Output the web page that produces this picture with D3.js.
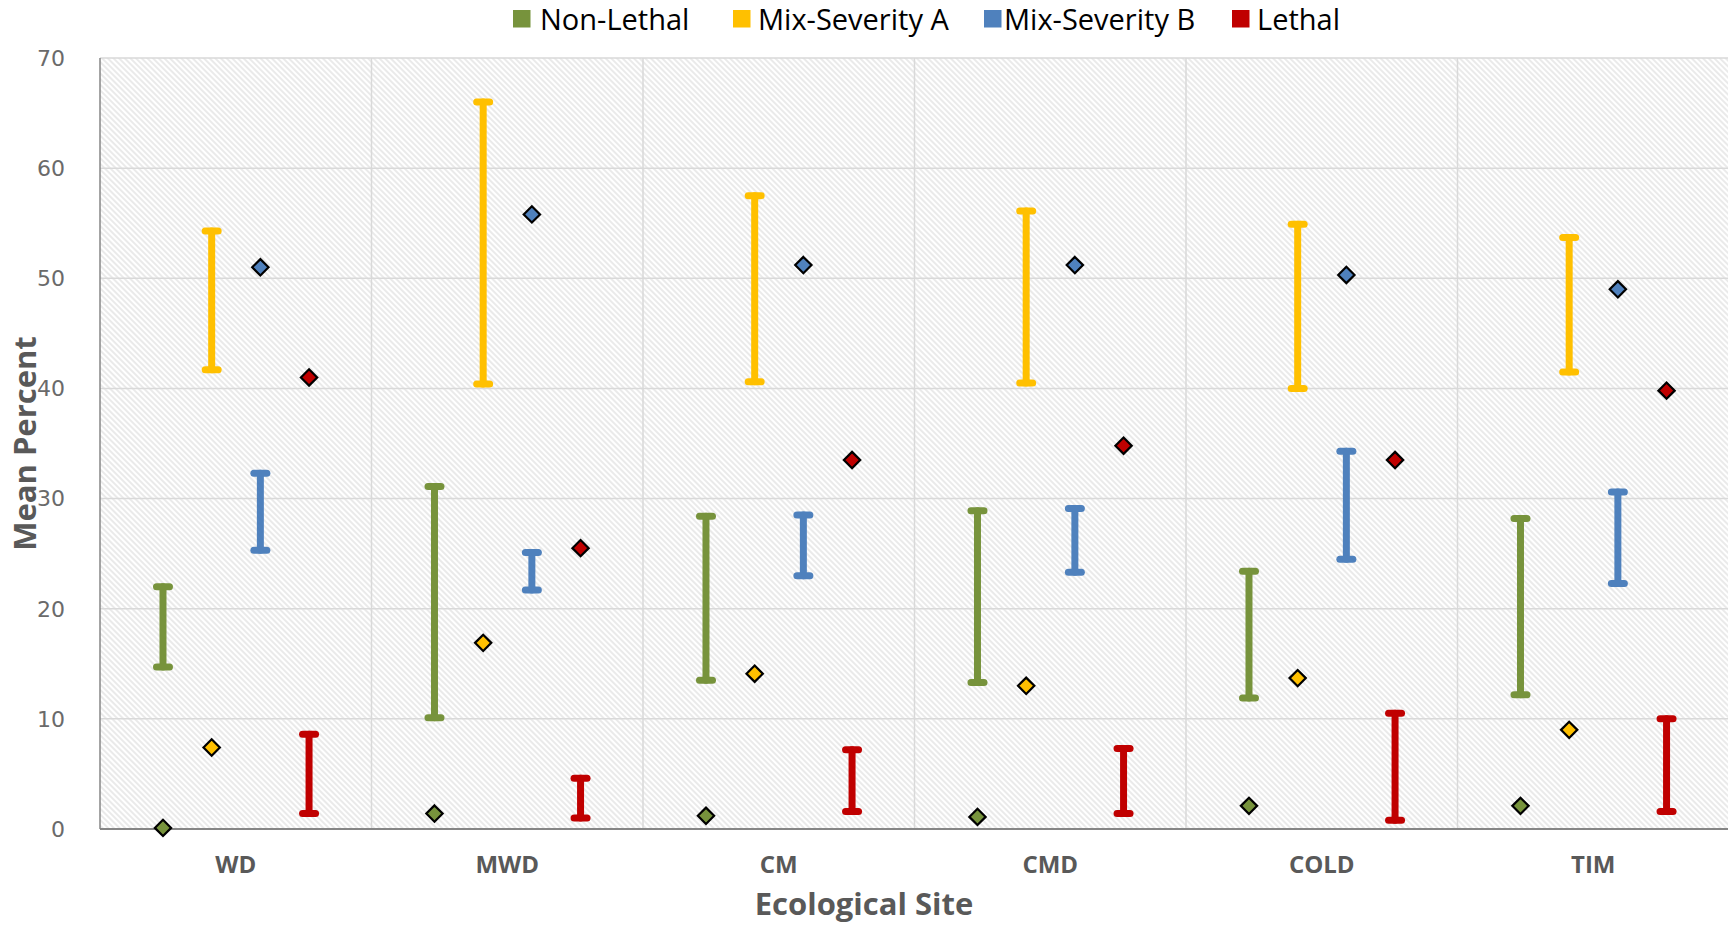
<!DOCTYPE html>
<html>
<head>
<meta charset="utf-8">
<script src="https://cdn.jsdelivr.net/npm/d3@7"></script>
<style>
  body { margin: 0; background: #fff; }
  svg { display: block; }
</style>
</head>
<body>
<script>
// categories and series
const sites = ["WD", "MWD", "CM", "CMD", "COLD", "TIM"];
const series = ["Non-Lethal", "Mix-Severity A", "Mix-Severity B", "Lethal"];
const colors = ["#77933C", "#FFC000", "#4F81BD", "#C00000"];
const yTicks = [0, 10, 20, 30, 40, 50, 60, 70];

// range bars (low / high) and diamond points, one value per site
const nonLethalLow = [14.7, 10.1, 13.5, 13.3, 11.9, 12.2];
const nonLethalHigh = [22.0, 31.1, 28.4, 28.9, 23.4, 28.2];
const nonLethalPoint = [0.1, 1.4, 1.2, 1.1, 2.1, 2.1];

const mixALow = [41.7, 40.4, 40.6, 40.5, 40.0, 41.5];
const mixAHigh = [54.3, 66.0, 57.5, 56.1, 54.9, 53.7];
const mixAPoint = [7.4, 16.9, 14.1, 13.0, 13.7, 9.0];

const mixBLow = [25.3, 21.7, 23.0, 23.3, 24.5, 22.3];
const mixBHigh = [32.3, 25.1, 28.5, 29.1, 34.3, 30.6];
const mixBPoint = [51.0, 55.8, 51.2, 51.2, 50.3, 49.0];

const lethalLow = [1.4, 1.0, 1.6, 1.4, 0.8, 1.6];
const lethalHigh = [8.6, 4.6, 7.2, 7.3, 10.5, 10.0];
const lethalPoint = [41.0, 25.5, 33.5, 34.8, 33.5, 39.8];

const lows = [nonLethalLow, mixALow, mixBLow, lethalLow];
const highs = [nonLethalHigh, mixAHigh, mixBHigh, lethalHigh];
const points = [nonLethalPoint, mixAPoint, mixBPoint, lethalPoint];

function main() {
    const width = 1728, height = 926;
    const left = 100, right = 1729, top = 58, bottom = 829;

    let svg = d3.select("body").append("svg")
        .attr("width", width)
        .attr("height", height);

    // build rows from the arrays
    let rows = [];
    series.forEach((s, si) => {
        sites.forEach((site, ci) => {
            rows.push({
                site: site, series: s, si: si,
                low: lows[si][ci], high: highs[si][ci], point: points[si][ci]
            });
        });
    });

    let xScale = d3.scaleBand().domain(sites).range([left, right]).padding(0);
    let bw = xScale.bandwidth();
    let sScale = d3.scalePoint().domain(series).range([bw * 0.232, bw * 0.77]);
    let yScale = d3.scaleLinear().domain([0, 70]).range([bottom, top]);

    // hatched background
    let defs = svg.append("defs");
    let pat = defs.append("pattern")
        .attr("id", "hatch")
        .attr("patternUnits", "userSpaceOnUse")
        .attr("width", 4)
        .attr("height", 4)
        .attr("patternTransform", "rotate(45)");
    pat.append("rect").attr("width", 4).attr("height", 4).attr("fill", "#fff");
    pat.append("line")
        .attr("x1", 0).attr("y1", 1)
        .attr("x2", 4).attr("y2", 1)
        .attr("stroke", "#d6d6d6")
        .attr("stroke-width", 1);

    svg.append("rect")
        .attr("x", left)
        .attr("y", top)
        .attr("width", right - left)
        .attr("height", bottom - top)
        .attr("fill", "url(#hatch)");

    // horizontal grid
    svg.append("g")
        .selectAll("line")
        .data(yTicks.filter(d => d > 0))
        .enter()
        .append("line")
        .attr("x1", left)
        .attr("x2", right)
        .attr("y1", d => yScale(d))
        .attr("y2", d => yScale(d))
        .attr("stroke", "#d9d9d9")
        .attr("stroke-width", 1.5);

    // vertical grid at category boundaries
    svg.append("g")
        .selectAll("line")
        .data(sites.slice(1))
        .enter()
        .append("line")
        .attr("x1", d => xScale(d))
        .attr("x2", d => xScale(d))
        .attr("y1", top)
        .attr("y2", bottom)
        .attr("stroke", "#d9d9d9")
        .attr("stroke-width", 1.5);

    // axes lines
    svg.append("line")
        .attr("x1", left).attr("x2", left)
        .attr("y1", top).attr("y2", bottom)
        .attr("stroke", "#868686")
        .attr("stroke-width", 1.5);
    svg.append("line")
        .attr("x1", left).attr("x2", right)
        .attr("y1", bottom).attr("y2", bottom)
        .attr("stroke", "#868686")
        .attr("stroke-width", 2);

    // y tick labels
    svg.append("g")
        .selectAll("text")
        .data(yTicks)
        .enter()
        .append("text")
        .attr("x", 65)
        .attr("y", d => yScale(d))
        .attr("dy", "0.36em")
        .attr("text-anchor", "end")
        .style("font-family", "'DejaVu Sans', sans-serif")
        .style("font-size", "22px")
        .style("fill", "#6a6a6a")
        .text(d => d);

    // x tick labels
    svg.append("g")
        .selectAll("text")
        .data(sites)
        .enter()
        .append("text")
        .attr("x", d => xScale(d) + bw / 2)
        .attr("y", 873)
        .attr("text-anchor", "middle")
        .style("font-family", "'Open Sans', sans-serif")
        .style("font-weight", "bold")
        .style("font-size", "24px")
        .style("fill", "#595959")
        .text(d => d);

    // axis titles
    svg.append("text")
        .attr("x", width / 2)
        .attr("y", 915)
        .attr("text-anchor", "middle")
        .style("font-family", "'Open Sans', sans-serif")
        .style("font-weight", "bold")
        .style("font-size", "31px")
        .style("fill", "#595959")
        .text("Ecological Site");

    svg.append("text")
        .attr("transform", `translate(36, ${(top + bottom) / 2}) rotate(-90)`)
        .attr("text-anchor", "middle")
        .style("font-family", "'Open Sans', sans-serif")
        .style("font-weight", "bold")
        .style("font-size", "31px")
        .style("fill", "#595959")
        .text("Mean Percent");

    // error-bar style ranges
    let bars = svg.append("g")
        .selectAll("g")
        .data(rows)
        .enter()
        .append("g")
        .attr("stroke", d => colors[d.si])
        .attr("stroke-width", 7)
        .attr("stroke-linecap", "round");

    bars.append("line")
        .attr("x1", d => xScale(d.site) + sScale(d.series))
        .attr("x2", d => xScale(d.site) + sScale(d.series))
        .attr("y1", d => yScale(d.low))
        .attr("y2", d => yScale(d.high));
    bars.append("line")
        .attr("x1", d => xScale(d.site) + sScale(d.series) - 6.5)
        .attr("x2", d => xScale(d.site) + sScale(d.series) + 6.5)
        .attr("y1", d => yScale(d.high))
        .attr("y2", d => yScale(d.high));
    bars.append("line")
        .attr("x1", d => xScale(d.site) + sScale(d.series) - 6.5)
        .attr("x2", d => xScale(d.site) + sScale(d.series) + 6.5)
        .attr("y1", d => yScale(d.low))
        .attr("y2", d => yScale(d.low));

    // diamonds
    let diamond = d3.symbol().type(d3.symbolDiamond2).size(170);
    svg.append("g")
        .selectAll("path")
        .data(rows)
        .enter()
        .append("path")
        .attr("d", diamond)
        .attr("transform", d => `translate(${xScale(d.site) + sScale(d.series)}, ${yScale(d.point)})`)
        .attr("fill", d => colors[d.si])
        .attr("stroke", "#000")
        .attr("stroke-width", 2.2)
        .attr("stroke-linejoin", "miter");

    // legend
    const legendX = [513, 733, 984, 1232];
    const legendTextX = [540, 758, 1004, 1257];
    let legend = svg.append("g")
        .selectAll("g")
        .data(series)
        .enter()
        .append("g");
    legend.append("rect")
        .attr("x", (d, i) => legendX[i])
        .attr("y", 10)
        .attr("width", 17.5)
        .attr("height", 17.5)
        .attr("fill", (d, i) => colors[i]);
    legend.append("text")
        .attr("x", (d, i) => legendTextX[i])
        .attr("y", 30)
        .style("font-family", "'Open Sans', sans-serif")
        .style("font-size", "29px")
        .style("fill", "#000")
        .text(d => d);
}

main()
</script>
</body>
</html>
